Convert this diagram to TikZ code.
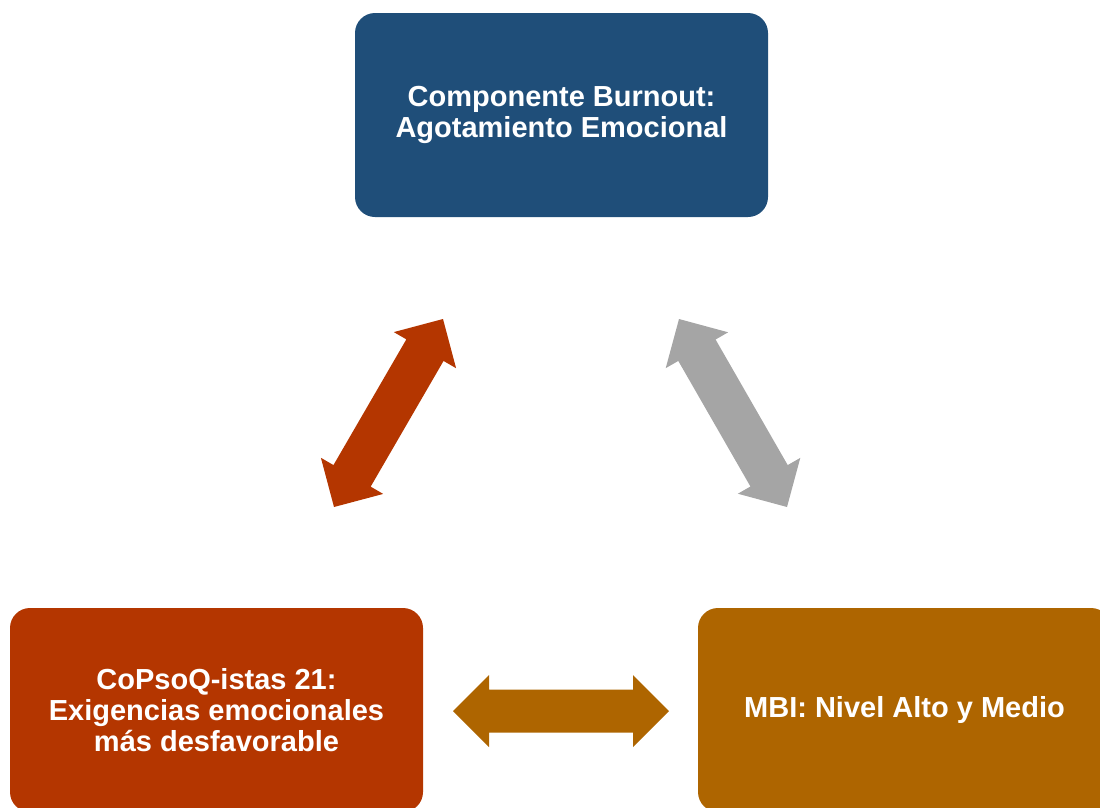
\documentclass[tikz,border=0pt]{standalone}
\usepackage{fontspec}
\setmainfont{Liberation Sans}
\usetikzlibrary{calc}

\definecolor{azul}{RGB}{31,78,121}
\definecolor{rojo}{RGB}{180,54,0}
\definecolor{ocre}{RGB}{174,101,0}
\definecolor{gris}{RGB}{165,165,165}

% flecha de bloque con dos puntas: desde, hasta, color
\newcommand{\flechadoble}[3]{%
  \fill[#3] (#1)
    -- ($($(#1)!36pt!(#2)$)!36pt!90:(#2)$)
    -- ($($(#1)!36pt!(#2)$)!21.5pt!90:(#2)$)
    -- ($($(#2)!36pt!(#1)$)!21.5pt!-90:(#1)$)
    -- ($($(#2)!36pt!(#1)$)!36pt!-90:(#1)$)
    -- (#2)
    -- ($($(#2)!36pt!(#1)$)!36pt!90:(#1)$)
    -- ($($(#2)!36pt!(#1)$)!21.5pt!90:(#1)$)
    -- ($($(#1)!36pt!(#2)$)!21.5pt!-90:(#2)$)
    -- ($($(#1)!36pt!(#2)$)!36pt!-90:(#2)$)
    -- cycle;}

\begin{document}
\begin{tikzpicture}[x=1pt,y=-1pt]
  \tikzset{caja/.style={rounded corners=20pt, minimum width=413pt, minimum height=204pt,
      inner sep=0pt, text=white, align=center, font=\bfseries\fontsize{29}{31}\selectfont}}

  \useasboundingbox (0,0) rectangle (1100,807);

  \node[caja,fill=azul] (burnout) at (561.5,115) {Componente Burnout:\\Agotamiento Emocional};
  \node[caja,fill=rojo] (copsoq) at (216.5,710) {CoPsoQ-istas 21:\\Exigencias emocionales\\más desfavorable};
  \node[caja,fill=ocre] (mbi) at (904.5,710) {MBI: Nivel Alto y Medio};

  \coordinate (r1) at (334,507);
  \coordinate (r2) at (443,319);
  \coordinate (g1) at (679,319);
  \coordinate (g2) at (787,507);
  \coordinate (o1) at (453,711);
  \coordinate (o2) at (669,711);

  \flechadoble{r1}{r2}{rojo}
  \flechadoble{g1}{g2}{gris}
  \flechadoble{o1}{o2}{ocre}

\end{tikzpicture}
\end{document}
